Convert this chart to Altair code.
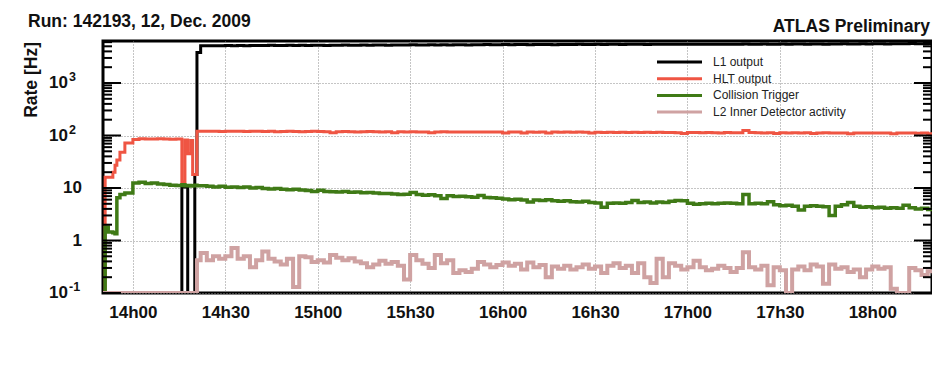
import altair as alt
import pandas as pd

# ---------------- data (minutes after midnight, 12 Dec 2009) ----------------
series_names = ["L1 output", "HLT output", "Collision Trigger", "L2 Inner Detector activity"]
series_colors = ["#000000", "#ef5543", "#3f7a16", "#cfa2a2"]
series_widths = [3, 3, 3.5, 4]

# irregular bin edges at the start of the run, then 2-minute bins
early_edges = [830.3, 831, 832, 833.5, 834.2, 834.8, 835.8, 837.4, 840, 842, 844, 846,
               848, 850, 852, 854, 855.9, 856.9, 857.8, 858.8, 859.4, 860.1, 860.8]
late_edges = list(range(862, 1103, 2))
edges = early_edges + late_edges

l1_early = [0, 0, 0, 0, 0, 0, 0, 0, 0, 0, 0, 0, 0, 0, 0, 0, 10.5, 10.5, 0, 0, 0, 18, 3800]
hlt_early = [0, 16, 16, 20, 27, 34, 48, 72, 84, 87, 86, 86, 87, 86, 85, 86, 13, 82, 45, 80, 18, 18, 120]
col_early = [0, 1.8, 1.45, 1.4, 1.35, 6.5, 7.5, 8.0, 12.5, 12.8, 12.2, 12.4, 11.9, 11.6, 11.3, 11.1,
             11.5, 11.0, 11.2, 10.9, 11.0, 11.3, 11.0]
l2_early = [0, 0, 0, 0, 0, 0, 0, 0, 0, 0, 0, 0, 0, 0, 0, 0, 0, 0, 0, 0, 0, 0, 0.42]

l1_late = [5100, 5150, 5100, 5150, 5200, 5150, 5200, 5150, 5200, 5200,
           5200, 5250, 5200, 5200, 5250, 5200, 5250, 5200, 5250, 5250,
           5200, 5250, 5250, 5300, 5250, 5250, 5300, 5250, 5300, 5300,
           5250, 5300, 5300, 5300, 5350, 5300, 5300, 5350, 5300, 5350,
           5300, 5350, 5350, 5300, 5350, 5350, 5400, 5350, 5350, 5400,
           5350, 5400, 5400, 5350, 5400, 5400, 5400, 5350, 5400, 5400,
           5400, 5450, 5400, 5400, 5450, 5400, 5450, 5450, 5400, 5450,
           5450, 5450, 5400, 5450, 5450, 5500, 5450, 5450, 5500, 5450,
           5500, 5450, 5500, 5500, 5450, 5500, 5500, 5500, 5550, 5500,
           5500, 5550, 5500, 5500, 5550, 5500, 5550, 5550, 5500, 5550,
           5550, 5500, 5550, 5550, 5600, 5550, 5550, 5600, 5550, 5600,
           5600, 5550, 5600, 5600, 5600, 5650, 5600, 5600, 5650, 5650]
hlt_late = [120, 121, 120, 119, 120, 121, 120, 119, 120, 120,
            119, 120, 118, 119, 120, 119, 118, 119, 120, 119,
            118, 113, 118, 119, 118, 117, 118, 119, 118, 117,
            118, 113, 118, 117, 118, 117, 116, 113, 117, 118,
            117, 116, 117, 116, 117, 116, 117, 116, 117, 112,
            116, 117, 112, 116, 115, 116, 111, 116, 115, 116,
            115, 116, 115, 111, 115, 114, 115, 114, 115, 114,
            115, 114, 115, 114, 115, 114, 114, 113, 109, 114,
            114, 113, 114, 113, 112, 114, 113, 113, 124, 114,
            113, 112, 113, 109, 113, 112, 113, 112, 113, 109,
            112, 113, 112, 111, 112, 108, 112, 111, 112, 111,
            111, 112, 108, 111, 112, 111, 110, 111, 108, 113]
col_late = [11.0, 10.8, 10.5, 10.8, 10.3, 10.5, 10.2, 10.4, 10.0, 10.2,
            9.8, 9.6, 9.8, 9.5, 9.3, 9.5, 9.2, 9.0, 8.6, 9.1,
            8.6, 8.5, 8.4, 8.6, 8.3, 8.4, 8.1, 8.2, 8.0, 7.9,
            7.9, 7.7, 7.5, 7.6, 8.2, 7.5, 7.3, 7.4, 7.1, 6.3,
            7.1, 6.9, 7.0, 6.8, 6.7, 7.2, 6.6, 6.5, 6.4, 6.2,
            6.0, 6.1, 5.9, 5.4, 5.9, 5.8, 6.0, 5.7, 5.6, 5.7,
            5.5, 5.4, 5.6, 5.3, 5.2, 4.3, 5.1, 5.2, 5.1, 5.3,
            5.8, 5.3, 5.4, 5.2, 5.4, 5.3, 5.6, 5.8, 5.7, 5.1,
            4.9, 5.0, 5.1, 5.0, 5.1, 5.2, 5.1, 5.0, 7.5, 5.0,
            5.1, 5.0, 5.5, 4.8, 4.6, 4.7, 4.5, 3.8, 4.5, 4.6,
            4.5, 4.4, 3.0, 4.5, 4.8, 5.3, 4.5, 4.3, 4.4, 4.2,
            4.3, 4.1, 4.2, 4.1, 4.7, 4.2, 4.0, 4.1, 3.9, 3.9]
l2_late = [0.58, 0.42, 0.50, 0.45, 0.50, 0.72, 0.45, 0.50, 0.31, 0.42,
           0.62, 0.45, 0.40, 0.35, 0.45, 0.13, 0.50, 0.48, 0.39, 0.42,
           0.38, 0.53, 0.47, 0.42, 0.46, 0.40, 0.37, 0.31, 0.35, 0.41,
           0.36, 0.39, 0.33, 0.18, 0.53, 0.42, 0.36, 0.30, 0.53, 0.37,
           0.42, 0.24, 0.27, 0.25, 0.29, 0.39, 0.35, 0.31, 0.34, 0.38,
           0.33, 0.36, 0.28, 0.38, 0.31, 0.34, 0.20, 0.32, 0.29, 0.33,
           0.28, 0.31, 0.35, 0.29, 0.32, 0.24, 0.33, 0.37, 0.30, 0.33,
           0.24, 0.37, 0.20, 0.155, 0.45, 0.20, 0.37, 0.33, 0.28, 0.31,
           0.41, 0.31, 0.27, 0.29, 0.33, 0.30, 0.25, 0.30, 0.60, 0.31,
           0.28, 0.33, 0.14, 0.31, 0.27, 0.10, 0.28, 0.32, 0.27, 0.35,
           0.32, 0.15, 0.35, 0.29, 0.31, 0.25, 0.28, 0.20, 0.28, 0.32,
           0.29, 0.31, 0.12, 0.10, 0.10, 0.30, 0.27, 0.22, 0.26, 0.24]

series_values = [l1_early + l1_late, hlt_early + hlt_late,
                 col_early + col_late, l2_early + l2_late]

x_tick_values = [840, 870, 900, 930, 960, 990, 1020, 1050, 1080]
y_major = [0.1, 1, 10, 100, 1000]
y_minor = [m * d for d in [0.1, 1, 10, 100, 1000] for m in range(2, 10) if m * d <= 6310]
y_plain_labels = [(10, "10"), (1, "1")]
y_exp_labels = [(1000, "10", "3"), (100, "10", "2"), (0.1, "10", "-1")]

title_left = "Run: 142193, 12, Dec. 2009"
title_right = "ATLAS Preliminary"
y_title = "Rate [Hz]"

# ---------------- build tables ----------------
rows = []
for name, vals in zip(series_names, series_values):
    for i, v in enumerate(vals):
        rows.append({"series": name, "t": edges[i], "v": v})
    rows.append({"series": name, "t": edges[len(vals)], "v": vals[-1]})
df = pd.DataFrame(rows)

W, H = 829, 252
FONT = "Liberation Sans"
scale_x = alt.Scale(domain=[830.3, 1099.4], nice=False, zero=False)
scale_y = alt.Scale(type="log", domain=[0.1, 6310], nice=False)

x_axis = alt.Axis(values=x_tick_values, title=None, grid=True, gridDash=[1, 2], gridColor="#8a8a8a",
                  gridWidth=1, ticks=False, domain=False, labelFont=FONT, labelFontSize=17,
                  labelFontWeight="bold", labelColor="#111", labelPadding=11,
                  labelExpr="floor(datum.value / 60) + 'h' + (datum.value % 60 == 0 ? '00' : '30')")
y_axis = alt.Axis(values=y_major, title=None, grid=True, gridDash=[1, 2], gridColor="#8a8a8a",
                  gridWidth=1, ticks=False, domain=False, labels=False)

layers = []
for i, (name, color, sw) in enumerate(zip(series_names, series_colors, series_widths)):
    layers.append(
        alt.Chart(df).transform_filter(alt.datum.series == name)
        .transform_calculate(vv="max(datum.v, 0.1)")
        .mark_line(interpolate="step-after", color=color, strokeWidth=sw, clip=True)
        .encode(x=alt.X("t:Q", scale=scale_x, axis=x_axis),
                y=alt.Y("vv:Q", scale=scale_y, axis=y_axis))
    )

major_df = pd.DataFrame({"tv": y_major})
minor_df = pd.DataFrame({"tv": y_minor})
for tdf, ln in [(major_df, 18), (minor_df, 9)]:
    layers.append(alt.Chart(tdf).mark_rule(color="black", strokeWidth=2)
                  .encode(y=alt.Y("tv:Q", scale=scale_y, axis=y_axis), x=alt.value(0), x2=alt.value(ln)))
    layers.append(alt.Chart(tdf).mark_rule(color="black", strokeWidth=2)
                  .encode(y=alt.Y("tv:Q", scale=scale_y, axis=y_axis), x=alt.value(W - ln), x2=alt.value(W)))

plain_df = pd.DataFrame({"tv": [a for a, _ in y_plain_labels], "lab": [b for _, b in y_plain_labels]})
exp_df = pd.DataFrame({"tv": [a for a, _, _ in y_exp_labels], "base": [b for _, b, _ in y_exp_labels],
                       "ex": [c for _, _, c in y_exp_labels]})
layers.append(alt.Chart(plain_df).mark_text(align="right", baseline="middle", font=FONT, fontSize=17,
                                           fontWeight="bold", color="#111")
              .encode(y=alt.Y("tv:Q", scale=scale_y, axis=y_axis), x=alt.value(-21), text="lab:N"))
layers.append(alt.Chart(exp_df).mark_text(align="right", baseline="middle", font=FONT, fontSize=17,
                                         fontWeight="bold", color="#111")
              .encode(y=alt.Y("tv:Q", scale=scale_y, axis=y_axis), x=alt.value(-35), text="base:N"))
layers.append(alt.Chart(exp_df).mark_text(align="left", baseline="middle", font=FONT, fontSize=12.5,
                                         fontWeight="bold", color="#111", dy=-6)
              .encode(y=alt.Y("tv:Q", scale=scale_y, axis=y_axis), x=alt.value(-34), text="ex:N"))

one = pd.DataFrame({"k": [0]})
layers.append(alt.Chart(one).mark_text(align="left", baseline="alphabetic", font=FONT, fontSize=17.5,
                                      fontWeight="bold", color="#111", text=title_left)
              .encode(x=alt.value(-75), y=alt.value(-14)))
layers.append(alt.Chart(one).mark_text(align="right", baseline="alphabetic", font=FONT, fontSize=17.5,
                                      fontWeight="bold", color="#111", text=title_right)
              .encode(x=alt.value(W - 2), y=alt.value(-9)))
layers.append(alt.Chart(one).mark_text(align="right", baseline="alphabetic", font=FONT, fontSize=17.5,
                                      fontWeight="bold", color="#111", angle=270, text=y_title)
              .encode(x=alt.value(-66), y=alt.value(1)))

# legend
for j, (name, color) in enumerate(zip(series_names, series_colors)):
    ly = 21 + j * 16.7
    layers.append(alt.Chart(one).mark_rule(color=color, strokeWidth=3)
                  .encode(x=alt.value(554), x2=alt.value(599), y=alt.value(ly)))
    layers.append(alt.Chart(one).mark_text(align="left", baseline="middle", font=FONT, fontSize=12,
                                          color="#222", text=name)
                  .encode(x=alt.value(610), y=alt.value(ly)))

chart = (alt.layer(*layers)
         .properties(width=W, height=H, autosize=alt.AutoSizeParams(type="none"),
                     padding={"left": 95, "top": 33, "right": 0, "bottom": 60})
         .configure_view(stroke="black", strokeWidth=3))

chart.save("out.html", embed_options={"renderer": "svg", "actions": False})
